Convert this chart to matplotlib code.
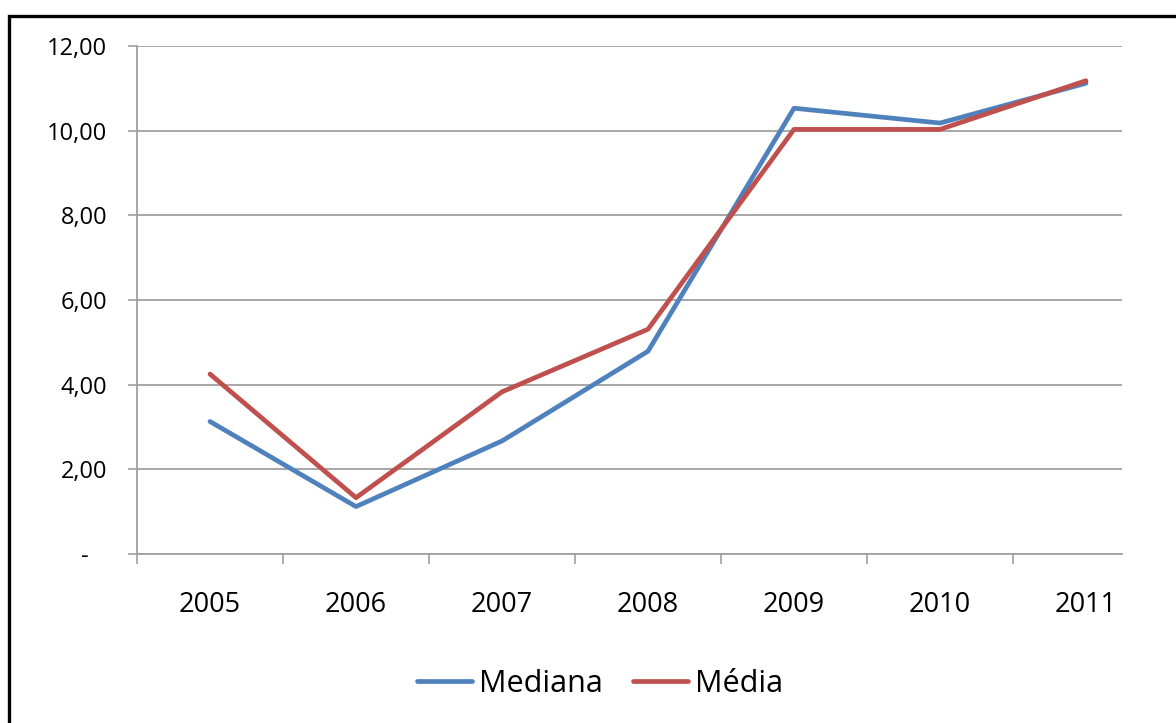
import matplotlib
matplotlib.use("Agg")
import matplotlib.pyplot as plt
from matplotlib.patches import Rectangle
from matplotlib.ticker import FixedLocator, NullFormatter

years = ["2005", "2006", "2007", "2008", "2009", "2010", "2011"]
mediana = [3.13, 1.12, 2.67, 4.79, 10.53, 10.18, 11.12]
media = [4.25, 1.33, 3.83, 5.31, 10.03, 10.03, 11.18]
ytick_vals = [0, 2, 4, 6, 8, 10, 12]
ytick_labels = ["-   ", "2,00", "4,00", "6,00", "8,00", "10,00", "12,00"]

plt.rcParams['font.family'] = ['Open Sans', 'DejaVu Sans']

W, H = 1176, 723
fig = plt.figure(figsize=(W / 100, H / 100), dpi=100)
ax = fig.add_axes([137 / W, 169 / H, (1122 - 137) / W, (554 - 46) / H])

x = list(range(len(years)))
ax.plot(x, mediana, color="#4F81BD", lw=3.4, label="Mediana", solid_joinstyle="round", solid_capstyle="round")
ax.plot(x, media, color="#C0504D", lw=3.4, label="Média", solid_joinstyle="round", solid_capstyle="round")

ax.set_ylim(0, 12)
ax.set_xlim(-0.5, -0.5 + (1122 - 137) / 146.0)

ax.set_yticks(ytick_vals)
ax.set_yticklabels(ytick_labels, fontsize=17)
ax.yaxis.grid(True, color="#A0A0A0", lw=1.3)
ax.set_axisbelow(True)

bounds = [i - 0.5 for i in range(len(years))]
ax.xaxis.set_major_locator(FixedLocator(bounds))
ax.xaxis.set_major_formatter(NullFormatter())
ax.set_xticks(x, minor=True)
ax.set_xticklabels(years, minor=True, fontsize=19.5)
ax.tick_params(axis="x", which="major", length=7, width=1.2, color="#A0A0A0", direction="out")
ax.tick_params(axis="x", which="minor", length=0, pad=27)
ax.tick_params(axis="y", length=6.5, width=1.2, color="#A0A0A0", pad=15)

for s in ["top", "right"]:
    ax.spines[s].set_visible(False)
for s in ["left", "bottom"]:
    ax.spines[s].set_color("#A0A0A0")
    ax.spines[s].set_linewidth(1.3)

fig.legend(loc="center", bbox_to_anchor=(600 / W, 1 - 684 / H), ncol=2, frameon=False,
           fontsize=22, handlelength=1.8, handletextpad=0.22, columnspacing=1.0)

# black border (cropped on right and bottom)
fig.patches.append(Rectangle((8.5 / W, -0.05), 1.2, 1 - 15.5 / H + 0.05, transform=fig.transFigure,
                             fill=False, edgecolor="black", lw=2.4, clip_on=False))

fig.savefig("out.png", dpi=100)
